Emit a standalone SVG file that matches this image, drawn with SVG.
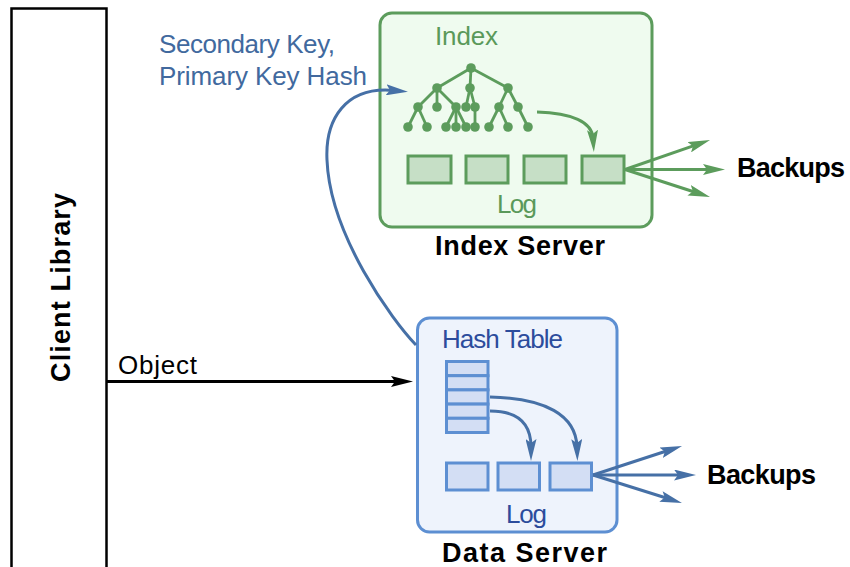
<svg xmlns="http://www.w3.org/2000/svg" width="850" height="567" viewBox="0 0 850 567">
  <style>
    text { font-family: "Liberation Sans", Arial, sans-serif; }
    .title { font-weight: bold; font-size: 27px; fill: #000; }
    .green-box { fill: #effbef; stroke: #5c9c5c; stroke-width: 3; }
    .green-cell { fill: #c6dfc6; stroke: #5c9c5c; stroke-width: 3; }
    .green-text { fill: #5a995a; font-size: 26px; }
    .blue-box { fill: #eef3fc; stroke: #5d8fd2; stroke-width: 3; }
    .blue-cell { fill: #d3def4; stroke: #5d8fd2; stroke-width: 3; }
    .blue-text { fill: #2c4c9c; font-size: 26px; }
    .tree line { stroke: #5c9c5c; stroke-width: 2.8; }
    .tree circle { fill: #5c9c5c; }
    .g-arrow { fill: none; stroke: #5c9c5c; stroke-width: 3; marker-end: url(#head-green); }
    .b-arrow { fill: none; stroke: #4670a6; stroke-width: 3; marker-end: url(#head-blue); }
    .k-arrow { fill: none; stroke: #000; stroke-width: 3; marker-end: url(#head-black); }
  </style>
  <defs>
    <marker id="head-green" viewBox="0 0 22 11" markerWidth="22" markerHeight="11" refX="8" refY="5.5" orient="auto" markerUnits="userSpaceOnUse">
      <path d="M0,0 L22,5.5 L0,11 L4,5.5 z" fill="#5c9c5c"/>
    </marker>
    <marker id="head-blue" viewBox="0 0 22 11" markerWidth="22" markerHeight="11" refX="8" refY="5.5" orient="auto" markerUnits="userSpaceOnUse">
      <path d="M0,0 L22,5.5 L0,11 L4,5.5 z" fill="#4670a6"/>
    </marker>
    <marker id="head-black" viewBox="0 0 22 11" markerWidth="22" markerHeight="11" refX="8" refY="5.5" orient="auto" markerUnits="userSpaceOnUse">
      <path d="M0,0 L22,5.5 L0,11 L4,5.5 z" fill="#000"/>
    </marker>
  </defs>

  <rect width="850" height="567" fill="#fff"/>

  <!-- Client library column -->
  <g id="client-library">
    <rect x="11.5" y="8.5" width="95" height="570" fill="#fff" stroke="#000" stroke-width="2.5"/>
    <text class="title" font-size="29" transform="translate(70,287.5) rotate(-90)" text-anchor="middle" textLength="189">Client Library</text>
  </g>

  <!-- Index server -->
  <g id="index-server">
    <rect class="green-box" x="380" y="13" width="272" height="214" rx="12"/>
    <text class="green-text" x="435" y="45" textLength="63">Index</text>
    <g class="tree">
      <line x1="471" y1="68" x2="437" y2="88"/>
      <line x1="471" y1="68" x2="470" y2="88"/>
      <line x1="471" y1="68" x2="508" y2="88"/>
      <line x1="437" y1="88" x2="418" y2="107"/>
      <line x1="437" y1="88" x2="437" y2="107"/>
      <line x1="437" y1="88" x2="456" y2="107"/>
      <line x1="470" y1="88" x2="466" y2="107"/>
      <line x1="470" y1="88" x2="475" y2="107"/>
      <line x1="508" y1="88" x2="499" y2="107"/>
      <line x1="508" y1="88" x2="518" y2="107"/>
      <line x1="418" y1="107" x2="408" y2="127"/>
      <line x1="418" y1="107" x2="427" y2="127"/>
      <line x1="456" y1="107" x2="446" y2="127"/>
      <line x1="456" y1="107" x2="456" y2="127"/>
      <line x1="456" y1="107" x2="466" y2="127"/>
      <line x1="475" y1="107" x2="475" y2="127"/>
      <line x1="499" y1="107" x2="489" y2="127"/>
      <line x1="499" y1="107" x2="508" y2="127"/>
      <line x1="518" y1="107" x2="528" y2="127"/>
      <circle cx="471" cy="68" r="4.8"/>
      <circle cx="437" cy="88" r="4.8"/>
      <circle cx="470" cy="88" r="4.8"/>
      <circle cx="508" cy="88" r="4.8"/>
      <circle cx="418" cy="107" r="4.8"/>
      <circle cx="437" cy="107" r="4.8"/>
      <circle cx="456" cy="107" r="4.8"/>
      <circle cx="466" cy="107" r="4.8"/>
      <circle cx="475" cy="107" r="4.8"/>
      <circle cx="499" cy="107" r="4.8"/>
      <circle cx="518" cy="107" r="4.8"/>
      <circle cx="408" cy="127" r="4.8"/>
      <circle cx="427" cy="127" r="4.8"/>
      <circle cx="446" cy="127" r="4.8"/>
      <circle cx="456" cy="127" r="4.8"/>
      <circle cx="466" cy="127" r="4.8"/>
      <circle cx="475" cy="127" r="4.8"/>
      <circle cx="489" cy="127" r="4.8"/>
      <circle cx="508" cy="127" r="4.8"/>
      <circle cx="528" cy="127" r="4.8"/>
    </g>
    <rect class="green-cell" x="408" y="156" width="43" height="27"/>
    <rect class="green-cell" x="466" y="156" width="42" height="27"/>
    <rect class="green-cell" x="524" y="156" width="42" height="27"/>
    <rect class="green-cell" x="582" y="156" width="42" height="27"/>
    <text class="green-text" x="497" y="213" textLength="40">Log</text>
    <text class="title" x="435" y="255" textLength="170">Index Server</text>
  </g>

  <!-- Data server -->
  <g id="data-server">
    <rect class="blue-box" x="417.5" y="318" width="199.5" height="214" rx="12"/>
    <text class="blue-text" x="442" y="348" textLength="121">Hash Table</text>
    <rect class="blue-cell" x="446.5" y="361.5" width="41.5" height="14.2"/>
    <rect class="blue-cell" x="446.5" y="375.7" width="41.5" height="14.2"/>
    <rect class="blue-cell" x="446.5" y="389.9" width="41.5" height="14.2"/>
    <rect class="blue-cell" x="446.5" y="404.1" width="41.5" height="14.2"/>
    <rect class="blue-cell" x="446.5" y="418.3" width="41.5" height="14.2"/>
    <rect class="blue-cell" x="446.5" y="463" width="41.5" height="27"/>
    <rect class="blue-cell" x="498" y="463" width="41.5" height="27"/>
    <rect class="blue-cell" x="550" y="463" width="41.5" height="27"/>
    <text class="blue-text" x="506" y="523" textLength="41">Log</text>
    <text class="title" x="442" y="562" textLength="165">Data Server</text>
  </g>

  <!-- Backup targets -->
  <g id="index-backups">
    <text class="title" x="737" y="177" textLength="108">Backups</text>
  </g>
  <g id="data-backups">
    <text class="title" x="707" y="484" textLength="109">Backups</text>
  </g>

  <!-- Connectors -->
  <g id="connectors">
    <!-- object write from the client -->
    <line class="k-arrow" x1="107" y1="381.5" x2="399" y2="381.5"/>
    <text x="118" y="374" font-size="26" fill="#000" textLength="79">Object</text>

    <!-- data server to index server -->
    <path class="b-arrow" d="M416,345 C392,320 330,235 327,160 C325,120 345,86 394,90.5"/>
    <text x="159" y="53" font-size="26" fill="#41699e" textLength="176">Secondary Key,</text>
    <text x="159" y="85" font-size="26" fill="#41699e" textLength="208">Primary Key Hash</text>

    <!-- index tree into log -->
    <path class="g-arrow" d="M537,112 C572,113 592,122 593,138"/>

    <!-- hash table into log -->
    <path class="b-arrow" d="M490,397 C545,398 576,415 577,447"/>
    <path class="b-arrow" d="M490,411 C520,411 531,425 531,447"/>

    <!-- index log replication -->
    <line class="g-arrow" x1="625" y1="169.5" x2="696.8" y2="144.6"/>
    <line class="g-arrow" x1="625" y1="169.5" x2="711" y2="169.5"/>
    <line class="g-arrow" x1="625" y1="169.5" x2="696.7" y2="192.7"/>

    <!-- data log replication -->
    <line class="b-arrow" x1="593" y1="475" x2="668.7" y2="450.3"/>
    <line class="b-arrow" x1="593" y1="475" x2="682" y2="475"/>
    <line class="b-arrow" x1="593" y1="475" x2="668.6" y2="498.8"/>
  </g>
</svg>
